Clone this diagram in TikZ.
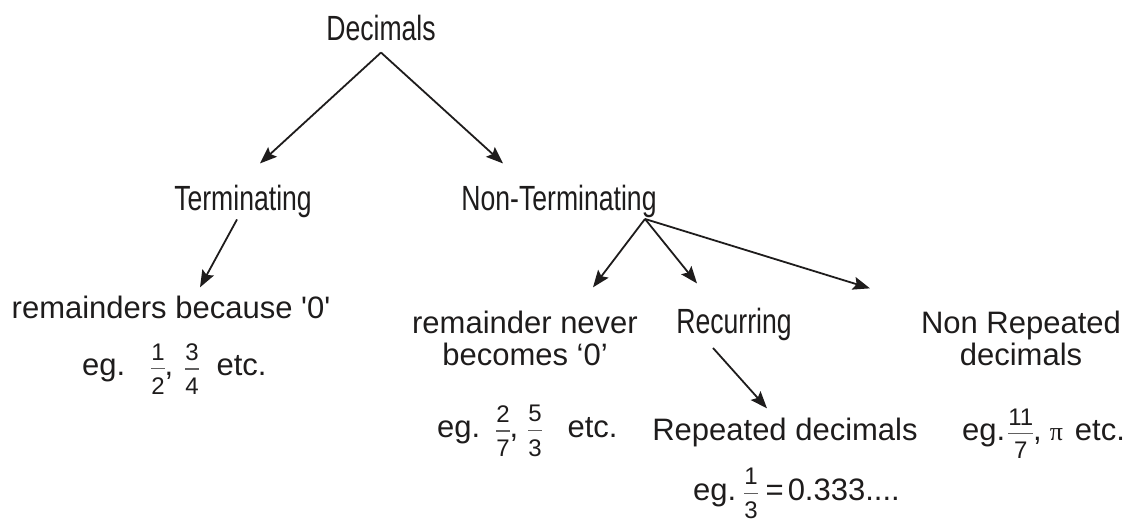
\documentclass[tikz,border=0pt]{standalone}
\usepackage{fontspec}
\setmainfont{Liberation Sans}
\newfontfamily\condfont{Liberation Sans}[FakeStretch=0.76]
\newfontfamily\serifpi{Liberation Serif}
\usetikzlibrary{arrows.meta}
\definecolor{ink}{RGB}{30,28,28}
\newcommand\fr[2]{\ensuremath{\vcenter{\hbox{\fontsize{24}{24}\selectfont
  \setbox0=\hbox{#1}\setbox2=\hbox{#2}%
  \ifdim\wd0>\wd2 \dimen0=\wd0 \else \dimen0=\wd2 \fi
  \vbox{\hbox to\dimen0{\hss\box0\hss}\kern8pt{\color{ink!70}\hrule height 1.2pt}\kern8pt\hbox to\dimen0{\hss\box2\hss}}}}}}
\tikzset{
  head/.style={font=\fontsize{35}{40}\selectfont\condfont, inner sep=0pt, anchor=base, text=ink},
  body/.style={font=\fontsize{31}{32}\selectfont, inner sep=0pt, anchor=base, align=center, text=ink},
  ex/.style={font=\fontsize{31}{36}\selectfont, inner sep=0pt, anchor=base west, text=ink},
  arr/.style={-{Stealth[length=17pt,width=13pt,inset=3pt]}, line width=1.8pt, draw=ink}
}
\begin{document}
\begin{tikzpicture}[x=1pt,y=1pt]
\useasboundingbox (0,0) rectangle (1135,-527);
% level 0
\node[head] (dec) at (381,-41) {Decimals};
% level 1
\node[head] (term) at (243,-210) {Terminating};
\node[head] (nonterm) at (559,-210) {Non-Terminating};
% terminating branch
\node[body] (rem) at (171,-318) {remainders because \textquotesingle0\textquotesingle};
\node[ex] (ex1) at (82,-375) {eg.\hspace{26pt}\fr{1}{2},\hspace{12pt}\fr{3}{4}\hspace{18pt}etc.};
% non-terminating branch
\node[body] (never) at (525,-365) {remainder never\\becomes `0'};
\node[ex] (ex2) at (437,-437) {eg.\hspace{16pt}\fr{2}{7},\hspace{10pt}\fr{5}{3}\hspace{26pt}etc.};
\node[head] (recur) at (734,-333) {Recurring};
\node[body] (repeat) at (785,-440) {Repeated decimals};
\node[ex] (ex3) at (693,-500) {eg.\hspace{8pt}\fr{1}{3}\hspace{8pt}=\hspace{4pt}0.333....};
\node[body] (nonrep) at (1021,-365) {Non Repeated\\decimals};
\node[ex] (ex4) at (962,-440) {eg.\hspace{3pt}\fr{11}{7},\hspace{8pt}{\serifpi\fontsize{26}{26}\selectfont π}\hspace{12pt}etc.};
% connectors
\coordinate (decS) at ([yshift=-11pt]dec.south);
\draw[arr] (decS) -- ([xshift=17pt,yshift=21pt]term.north);
\draw[arr] (decS) -- ([xshift=-56pt,yshift=21pt]nonterm.north);
\draw[arr] ([xshift=-6pt,yshift=-2pt]term.south) -- ([xshift=29pt,yshift=8pt]rem.north);
\coordinate (ntS) at ([xshift=86pt,yshift=-1.5pt]nonterm.south);
\draw[arr] (ntS) -- ([xshift=68pt,yshift=23pt]never.north);
\draw[arr] (ntS) -- ([xshift=-37pt,yshift=24pt]recur.north);
\draw[arr] (ntS) -- ([xshift=-151pt,yshift=22pt]nonrep.north);
\draw[arr] ([xshift=-21pt,yshift=-7.5pt]recur.south) -- ([xshift=-18pt,yshift=9pt]repeat.north);
\end{tikzpicture}
\end{document}
